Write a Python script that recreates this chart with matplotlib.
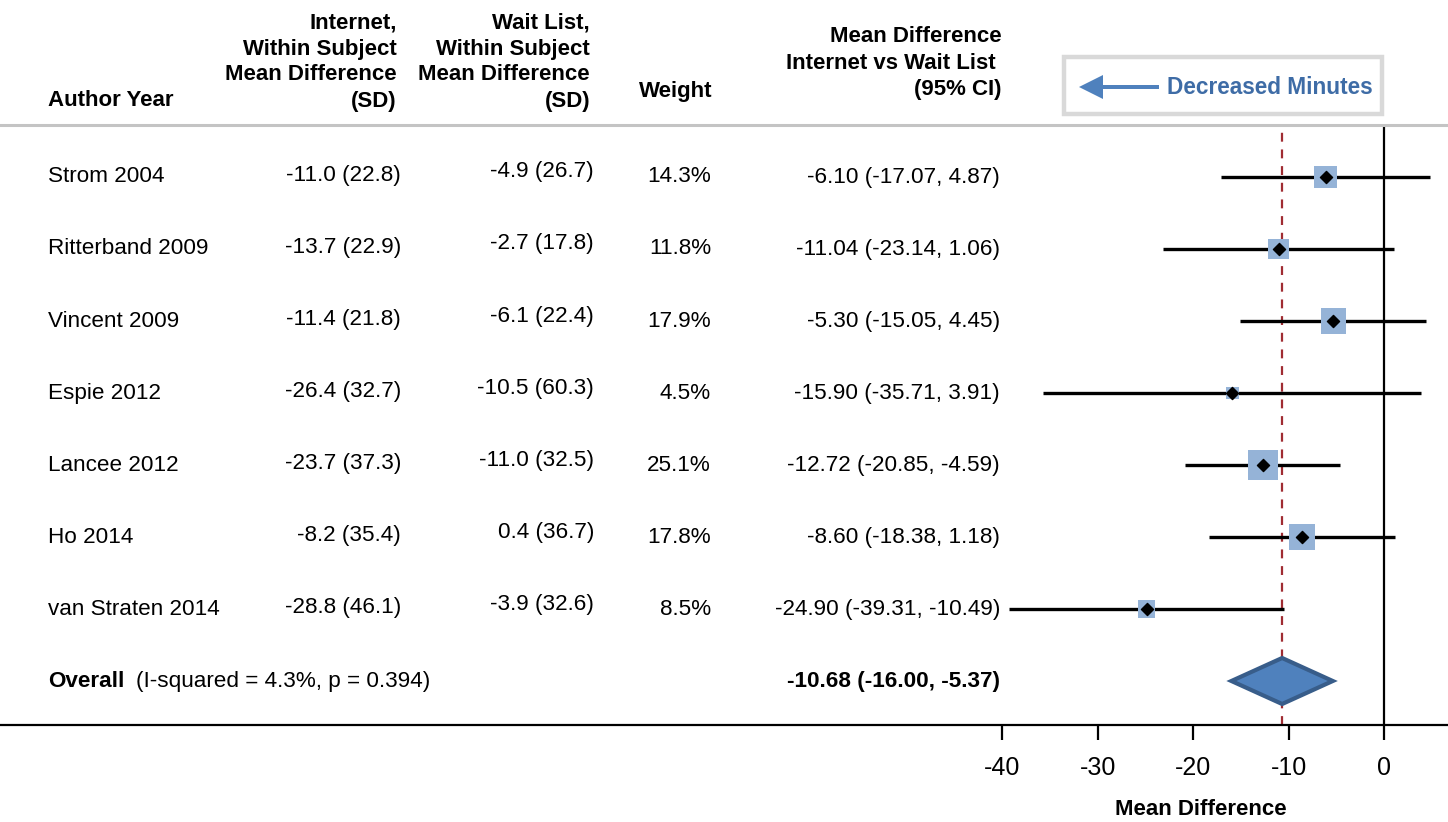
import matplotlib
matplotlib.use("Agg")
import matplotlib.pyplot as plt
from matplotlib import transforms
from matplotlib.patches import Rectangle, Polygon, FancyArrow

plt.rcParams['font.family'] = ['Liberation Sans', 'DejaVu Sans']

# study data
authors = ["Strom 2004", "Ritterband 2009", "Vincent 2009", "Espie 2012",
           "Lancee 2012", "Ho 2014", "van Straten 2014"]
internet_md = [-11.0, -13.7, -11.4, -26.4, -23.7, -8.2, -28.8]
internet_sd = [22.8, 22.9, 21.8, 32.7, 37.3, 35.4, 46.1]
wait_md = [-4.9, -2.7, -6.1, -10.5, -11.0, 0.4, -3.9]
wait_sd = [26.7, 17.8, 22.4, 60.3, 32.5, 36.7, 32.6]
weights = [14.3, 11.8, 17.9, 4.5, 25.1, 17.8, 8.5]
mean_diff = [-6.10, -11.04, -5.30, -15.90, -12.72, -8.60, -24.90]
ci_low = [-17.07, -23.14, -15.05, -35.71, -20.85, -18.38, -39.31]
ci_high = [4.87, 1.06, 4.45, 3.91, -4.59, 1.18, -10.49]

overall_md = -10.68
overall_low = -16.00
overall_high = -5.37
overall_note = "(I-squared = 4.3%, p = 0.394)"

xticks = [-40, -30, -20, -10, 0]

W, H = 1448, 822
fig = plt.figure(figsize=(W / 100, H / 100), dpi=100)


def fx(x):
    return x / W


def fy(y):
    return 1 - y / H


# axes covers the whole width, from the header rule down to the x axis
ax = fig.add_axes([0, fy(725), 1, fy(125) - fy(725)])
px_per_unit = (1384 - 1002.5) / 40.0
ax.set_xlim(-1384 / px_per_unit, (W - 1384) / px_per_unit)
row_px = 72.0
ax.set_ylim((725 - 177) / row_px, (125 - 177) / row_px)

for s in ['left', 'right']:
    ax.spines[s].set_visible(False)
ax.spines['top'].set_color('#c4c4c4')
ax.spines['top'].set_linewidth(2.2)
ax.spines['bottom'].set_linewidth(1.6)
ax.set_yticks([])
ax.set_xticks(xticks)
ax.set_xticklabels([str(t) for t in xticks])
ax.tick_params(axis='x', direction='out', length=11, width=1.6, pad=11, labelsize=18)

n = len(authors)
rows = list(range(n))

# reference lines
ax.axvline(0, color='black', lw=1.6, zorder=1)
ax.axvline(overall_md, color='#a02c32', lw=1.6, ls=(0, (4, 3.5)), zorder=1)

# CIs, weighted squares and point estimates
ax.hlines(rows, ci_low, ci_high, color='black', lw=2.4, zorder=2)
ax.scatter(mean_diff, rows, marker='s', s=[18.66 * w for w in weights],
           color='#95b3d7', edgecolor='none', zorder=3)
ax.scatter(mean_diff, rows, marker='D', s=38, color='black', zorder=4)

# overall diamond
half = 23 / row_px
dia = Polygon([[overall_low, n], [overall_md, n - half], [overall_high, n], [overall_md, n + half]],
              closed=True, facecolor='#4f81bd', edgecolor='#385d8a', lw=3, zorder=3)
ax.add_patch(dia)

# table text
tr = transforms.blended_transform_factory(fig.transFigure, ax.transData)
fs = 16.2
for i in rows:
    ax.text(fx(48), i, authors[i], transform=tr, ha='left', va='center', fontsize=fs)
    ax.text(fx(401), i - 2 / row_px, f"{internet_md[i]:.1f} ({internet_sd[i]:.1f})",
            transform=tr, ha='right', va='center', fontsize=fs)
    ax.text(fx(594), i - 5 / row_px, f"{wait_md[i]:.1f} ({wait_sd[i]:.1f})",
            transform=tr, ha='right', va='center', fontsize=fs)
    ax.text(fx(711), i, f"{weights[i]:.1f}%", transform=tr, ha='right', va='center', fontsize=fs)
    ax.text(fx(1000), i, f"{mean_diff[i]:.2f} ({ci_low[i]:.2f}, {ci_high[i]:.2f})",
            transform=tr, ha='right', va='center', fontsize=fs)

ax.text(fx(48), n, "Overall", transform=tr, ha='left', va='center', fontsize=fs, fontweight='bold')
ax.text(fx(136), n, overall_note, transform=tr, ha='left', va='center', fontsize=fs)
ax.text(fx(1000), n, f"{overall_md:.2f} ({overall_low:.2f}, {overall_high:.2f})",
        transform=tr, ha='right', va='center', fontsize=fs, fontweight='bold')

# column headers
hs = 16
fig.text(fx(48), fy(101), "Author Year", ha='left', va='center', fontsize=hs, fontweight='bold')
for j, line in enumerate(["Internet,", "Within Subject", "Mean Difference", "(SD)"]):
    fig.text(fx(397), fy(23 + 26 * j), line, ha='right', va='center', fontsize=hs, fontweight='bold')
for j, line in enumerate(["Wait List,", "Within Subject", "Mean Difference", "(SD)"]):
    fig.text(fx(590), fy(23 + 26 * j), line, ha='right', va='center', fontsize=hs, fontweight='bold')
fig.text(fx(712), fy(92), "Weight", ha='right', va='center', fontsize=hs, fontweight='bold')
for j, line in enumerate(["Mean Difference", "Internet vs Wait List ", "(95% CI)"]):
    fig.text(fx(1002), fy(37 + 26.5 * j), line, ha='right', va='center', fontsize=hs, fontweight='bold')

# direction box
fig.patches.append(Rectangle((fx(1064), fy(114)), fx(1382 - 1064), fy(57) - fy(114),
                             transform=fig.transFigure, facecolor='white',
                             edgecolor='#d9d9d9', lw=3.2))
fig.patches.append(FancyArrow(fx(1159), fy(87), fx(1079 - 1159), 0, width=4 / H,
                              head_width=24 / H, head_length=fx(24),
                              length_includes_head=True, transform=fig.transFigure,
                              color='#4f81bd', lw=0))
fig.text(fx(1167), fy(87), "Decreased Minutes", ha='left', va='center',
         fontsize=16.3, fontweight='bold', color='#3e6ca6')

fig.text(fx(1201), fy(809), "Mean Difference", ha='center', va='center',
         fontsize=16, fontweight='bold')

fig.savefig("out.png", dpi=100)
